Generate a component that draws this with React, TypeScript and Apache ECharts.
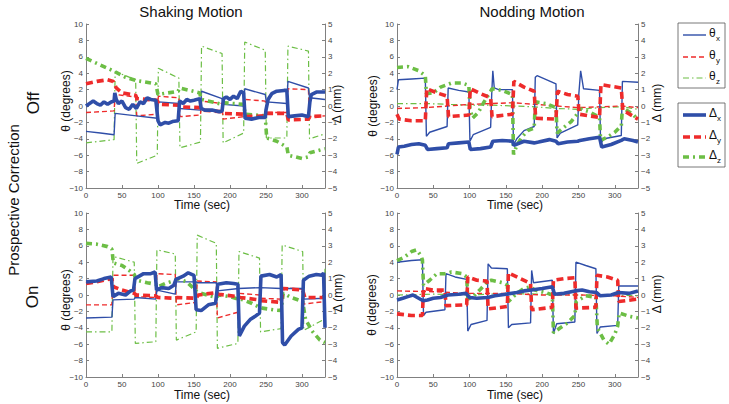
import React, { useEffect, useRef } from 'react';
import * as echarts from 'echarts';

const X_MAX = 332;
const X_TICKS = [0, 50, 100, 150, 200, 250, 300];
const THETA_RANGE = [-10, 10];
const DELTA_RANGE = [-5, 5];
const COLUMN_TITLES = ['Shaking Motion', 'Nodding Motion'];
const ROW_TITLES = ['Off', 'On'];

// ---------- Shaking, correction Off ----------
const shakeOffThetaX = [[0,-3.1],[20,-3.3],[39,-3.5],[40.5,-0.9],[70,-1.2],[99,-1.5],[100.5,0.5],[129,0.3],[130.5,-0.3],[159,-0.5],[160.5,1.8],[189,0.9],[190.5,0.2],[219,0],[220.5,2.1],[249,1.4],[250.5,0.5],[279,0.3],[280.5,3.0],[309,2.2],[310.5,1.0],[332,0.8]];
const shakeOffThetaY = [[0,-0.8],[39,-0.6],[40.5,1.4],[69,1.1],[70.5,-1.2],[99,-1.0],[100.5,1.2],[129,1.0],[130.5,-1.3],[159,-1.1],[160.5,0.6],[189,0.3],[190.5,-1.6],[219,-1.3],[220.5,0.8],[249,0.6],[250.5,-0.8],[279,-0.8],[280.5,2.1],[309,2.0],[310.5,-1.3],[332,-1.2]];
const shakeOffThetaZ = [[0,-4.5],[39,-4.1],[40.5,4.2],[69,3.2],[70.5,-7.0],[99,-6.0],[100.5,4.6],[129,3.4],[130.5,-5.1],[159,-4.4],[160.5,7.3],[189,6.4],[190.5,-4.5],[219,-3.3],[220.5,7.8],[249,6.8],[250.5,-3.9],[279,-3.9],[280.5,7.3],[309,6.7],[310.5,-4.0],[332,-3.4]];
const shakeOffDeltaX = [[0,0],[5,0.15],[10,0.3],[15,0.15],[20,0.05],[25,0.25],[30,0.1],[35,0.25],[39,0.3],[40,0.8],[42,0.4],[45,0.15],[50,0.3],[55,-0.1],[60,-0.2],[65,0.1],[70,-0.15],[75,0.25],[80,0.15],[85,0.5],[90,0.4],[97,0.35],[100,-0.9],[103,-1.15],[110,-1.0],[115,-1.05],[120,-0.95],[128,-0.9],[130,0.3],[135,0.15],[140,0.4],[145,0.3],[150,0.35],[158,0.45],[160,-0.15],[165,-0.25],[175,-0.25],[185,-0.35],[189,-0.3],[191,0.45],[195,0.55],[200,0.4],[205,0.6],[210,0.45],[215,0.9],[219,0.8],[221,-0.75],[230,-0.8],[240,-0.7],[249,-0.7],[250,-0.25],[253,0.4],[258,0.75],[265,0.9],[275,0.95],[279,0.95],[281,-0.65],[290,-0.6],[300,-0.55],[309,-0.65],[311,0.25],[313,0.7],[320,0.85],[332,0.85]];
const shakeOffDeltaY = [[0,1.35],[15,1.5],[30,1.6],[38,1.5],[42,1.1],[50,0.8],[69,0.65],[71,0.45],[99,0.35],[101,0.1],[129,0.05],[131,-0.05],[159,-0.1],[161,-0.25],[189,-0.35],[191,-0.45],[219,-0.5],[221,-0.65],[249,-0.6],[251,-0.45],[279,-0.45],[281,-0.85],[309,-0.8],[311,-0.65],[332,-0.6]];
const shakeOffDeltaZ = [[0,2.9],[20,2.5],[40,2.1],[55,1.75],[70,1.55],[97,1.35],[100,0.7],[128,0.9],[130,1.1],[158,0.8],[160,0.4],[189,0.1],[191,0.2],[219,0.1],[221,-0.5],[249,-0.6],[251,-1.95],[265,-2.15],[279,-2.5],[281,-3.0],[300,-3.2],[309,-3.1],[311,-2.85],[332,-2.6]];

// ---------- Nodding, correction Off ----------
const nodOffThetaX = [[0,2.0],[2,3.2],[20,3.3],[39,3.4],[40.5,-3.7],[45,-3.2],[69,-2.5],[70.5,2.2],[85,1.9],[99,1.7],[100.5,-4.3],[105,-3.5],[129,-2.6],[130.5,1.5],[132,4.3],[134,2.2],[140,2.0],[159,2.0],[160.5,-4.8],[165,-4.0],[175,-3.0],[189,-2.5],[190.5,3.5],[193,3.7],[219,2.7],[220.5,-3.9],[225,-3.3],[249,-2.3],[250.5,1.5],[253,4.3],[257,2.1],[279,1.9],[280.5,-4.6],[285,-4.0],[309,-3.6],[310.5,3.0],[332,2.9]];
const nodOffThetaY = [[0,-0.3],[40,-0.2],[70,0],[100,0.2],[130,0.3],[160,0.4],[190,0.2],[220,0],[250,-0.2],[280,-0.1],[310,0],[332,-0.2]];
const nodOffThetaZ = [[0,0.3],[40,0.3],[70,0.2],[100,0.1],[130,0.1],[160,0],[190,-0.1],[220,-0.3],[250,-0.4],[280,-0.2],[310,-0.1],[332,-0.4]];
const nodOffDeltaX = [[0,-2.95],[2,-2.5],[10,-2.45],[20,-2.35],[30,-2.3],[39,-2.4],[42,-2.65],[55,-2.6],[69,-2.55],[71,-2.3],[85,-2.25],[99,-2.2],[101,-2.65],[115,-2.6],[129,-2.5],[132,-2.15],[145,-2.1],[159,-2.15],[161,-2.4],[175,-2.15],[189,-2.25],[195,-2.2],[210,-2.05],[219,-2.15],[222,-2.3],[235,-2.2],[249,-2.15],[252,-2.1],[265,-2.0],[279,-1.9],[282,-2.5],[295,-2.35],[309,-2.1],[313,-2.0],[325,-2.1],[332,-2.2]];
const nodOffDeltaY = [[0,-0.5],[3,-0.8],[20,-0.9],[39,-0.9],[41,1.05],[55,0.8],[69,0.6],[71,-0.65],[99,-0.55],[101,1.05],[115,0.75],[129,0.5],[131,-0.65],[159,-0.5],[161,1.5],[175,1.15],[189,0.9],[191,-0.75],[219,-0.8],[221,0.9],[235,0.7],[249,0.6],[251,-0.5],[279,-0.7],[281,1.3],[309,1.1],[311,-0.25],[332,-0.8]];
const nodOffDeltaZ = [[0,2.35],[15,2.4],[30,2.15],[39,1.85],[40.5,0.75],[50,0.8],[60,1.15],[75,1.4],[90,1.4],[99,1.25],[100.5,-0.15],[104,-0.75],[112,-0.4],[120,0.25],[129,0.9],[131,1.05],[145,0.95],[159,0.7],[160.5,-2.95],[165,-2.4],[172,-1.9],[180,-1.5],[189,-1.35],[190.5,0.25],[205,0.15],[219,-0.1],[220.5,-1.65],[230,-1.3],[240,-0.95],[249,-0.45],[250.5,-0.15],[265,-0.35],[279,-0.7],[280.5,-2.1],[290,-1.9],[300,-1.6],[309,-1.2],[310.5,-0.1],[325,-0.5],[332,-0.85]];

// ---------- Shaking, correction On ----------
const shakeOnThetaX = [[0,-2.8],[36,-2.7],[37.5,-0.6],[67,-0.5],[68.5,-0.3],[97,-0.5],[98.5,0.6],[124,0.1],[125.5,1.6],[153,1.6],[154.5,1.5],[181,1.5],[182.5,0.5],[212,0.8],[242,0.9],[271,0.8],[301,0.8],[302.5,-0.5],[332,-0.4]];
const shakeOnThetaY = [[0,-1.2],[36,-1.2],[37.5,2.4],[67,2.4],[68.5,-0.2],[97,-0.3],[98.5,2.6],[124,2.5],[125.5,-1.2],[153,-0.9],[154.5,1.7],[181,1.6],[182.5,-2.8],[211,-2.1],[212.5,0.2],[241,0],[242.5,-0.4],[271,-0.5],[272.5,0.9],[301,0.7],[302.5,-1.1],[332,-0.8]];
const shakeOnThetaZ = [[0,-4.5],[36,-4.5],[37.5,4.7],[67,4.0],[68.5,-5.9],[97,-5.7],[98.5,5.5],[124,5.0],[125.5,-5.5],[153,-4.5],[154.5,7.3],[181,6.3],[182.5,-6.5],[211,-5.9],[212.5,5.3],[241,4.5],[242.5,-4.5],[271,-4.1],[272.5,6.1],[301,5.3],[302.5,-4.3],[330,-3.0],[332,3.2]];
const shakeOnDeltaX = [[0,0.8],[15,0.85],[25,1.0],[35,1.1],[37.5,-0.1],[45,0.1],[55,0],[62,0.25],[66,0.3],[68,1.0],[80,1.3],[90,1.3],[96,1.4],[98,0.3],[105,0.45],[115,0.4],[122,0.6],[125,0.95],[135,1.15],[142,1.35],[150,1.2],[153,-0.9],[160,-0.95],[170,-0.6],[180,-0.5],[183,0.65],[195,0.75],[205,0.7],[211,0.65],[213,-2.5],[220,-1.9],[228,-1.5],[235,-1.3],[241,-1.1],[243,1.15],[255,1.25],[265,1.1],[271,1.25],[273,-2.9],[276,-3.05],[285,-2.5],[295,-2.1],[300,-2.0],[302,0.9],[310,1.15],[320,1.25],[328,1.2],[330,1.35],[332,-2.0]];
const shakeOnDeltaY = [[0,0.7],[15,0.8],[30,0.95],[36,1.0],[38,0.5],[50,0.3],[67,0.1],[70,0],[97,-0.05],[100,-0.15],[124,-0.2],[127,-0.15],[153,-0.2],[156,0],[181,0.15],[184,0.05],[211,-0.1],[214,-0.15],[241,-0.3],[244,-0.35],[271,-0.45],[274,0.4],[301,0.3],[304,-0.15],[332,-0.15]];
const shakeOnDeltaZ = [[0,3.15],[15,3.1],[30,2.95],[36,2.8],[38,1.95],[50,1.8],[60,1.5],[67,1.25],[70,0.9],[85,0.75],[97,0.65],[100,0.5],[110,0.7],[124,0.9],[127,1.0],[140,0.8],[153,0.25],[160,0.1],[181,-0.15],[185,0],[200,-0.1],[211,-0.25],[215,-0.25],[230,-0.5],[241,-0.75],[245,-0.8],[260,-0.9],[271,-0.95],[274,0.1],[285,-0.15],[301,-0.4],[305,-1.5],[315,-2.25],[325,-2.75],[332,-2.9]];

// ---------- Nodding, correction On ----------
const nodOnThetaX = [[0,4.0],[20,4.2],[35,4.3],[36.5,-2.5],[40,-2.1],[66,-1.8],[67.5,2.6],[80,2.2],[96,1.9],[97.5,-4.4],[102,-3.6],[124,-3.1],[125.5,3.8],[130,3.3],[152,3.2],[153.5,-4.0],[158,-3.6],[184,-3.4],[185.5,3.0],[188,1.5],[214,1.8],[215.5,-4.7],[220,-3.5],[245,-3.3],[246.5,4.0],[260,3.6],[274,3.2],[275.5,-4.7],[280,-3.9],[304,-3.7],[305.5,1.1],[332,1.1]];
const nodOnThetaY = [[0,0.5],[50,0.4],[100,0.2],[150,0.2],[200,0],[250,0],[300,-0.1],[332,-0.3]];
const nodOnThetaZ = [[0,0],[50,0.1],[100,0],[150,0.2],[200,0.1],[250,0],[300,0],[332,-0.1]];
const nodOnDeltaX = [[0,-0.3],[8,-0.2],[15,-0.1],[22,0],[28,-0.15],[36,-0.35],[42,-0.3],[50,-0.2],[60,-0.15],[70,0],[85,0.05],[95,0.1],[100,-0.15],[110,-0.2],[125,-0.15],[135,-0.05],[150,0.05],[165,0.15],[175,0.25],[185,0.3],[200,0.4],[214,0.5],[217,0.05],[230,0.1],[245,0.25],[255,0.3],[265,0.2],[275,0.15],[280,-0.05],[295,0],[305,0.15],[320,0.1],[332,0.25]];
const nodOnDeltaY = [[0,-1.15],[20,-1.25],[35,-1.25],[36.5,0.4],[50,0.3],[66,0.3],[67.5,-0.65],[96,-0.6],[97.5,1.1],[110,0.9],[124,0.85],[125.5,-0.85],[152,-0.7],[153.5,1.35],[170,1.0],[184,0.7],[185.5,-0.9],[214,-0.75],[215.5,0.9],[230,1.0],[245,1.05],[246.5,-0.8],[274,-0.75],[275.5,1.2],[290,1.1],[304,0.9],[305.5,-0.4],[332,-0.25]];
const nodOnDeltaZ = [[0,2.1],[10,2.3],[20,2.65],[27,2.75],[33,2.4],[35,2.15],[36.5,0.6],[45,0.9],[55,1.3],[66,1.3],[75,1.4],[90,1.3],[96,1.1],[97.5,-0.25],[105,-0.1],[115,0.35],[124,0.8],[130,0.9],[145,0.75],[152,0.6],[153.5,-0.4],[165,0.1],[175,0.4],[184,0.5],[190,0.3],[205,0.15],[214,0],[215.5,-2.3],[225,-2.0],[235,-1.7],[245,-1.25],[247,-0.4],[260,-0.05],[274,-0.15],[276,-2.0],[285,-2.75],[292,-3.0],[300,-2.4],[304,-1.9],[306,-1.1],[320,-1.3],[332,-1.4]];

const BLUE = '#2F4EA8';
const RED = '#EE2B2B';
const GREEN = '#6CBE45';
const FONT = '"Liberation Sans", Arial, sans-serif';

const panels = [
  { tx: shakeOffThetaX, ty: shakeOffThetaY, tz: shakeOffThetaZ, dx: shakeOffDeltaX, dy: shakeOffDeltaY, dz: shakeOffDeltaZ },
  { tx: nodOffThetaX, ty: nodOffThetaY, tz: nodOffThetaZ, dx: nodOffDeltaX, dy: nodOffDeltaY, dz: nodOffDeltaZ },
  { tx: shakeOnThetaX, ty: shakeOnThetaY, tz: shakeOnThetaZ, dx: shakeOnDeltaX, dy: shakeOnDeltaY, dz: shakeOnDeltaZ },
  { tx: nodOnThetaX, ty: nodOnThetaY, tz: nodOnThetaZ, dx: nodOnDeltaX, dy: nodOnDeltaY, dz: nodOnDeltaZ },
];

const gridBoxes = [
  { left: 86, top: 24, width: 239, height: 164 },
  { left: 397, top: 24, width: 241, height: 164 },
  { left: 86, top: 213, width: 239, height: 164 },
  { left: 397, top: 213, width: 241, height: 164 },
];

const styles: Record<string, any> = {
  tx: { color: BLUE, width: 1.4, type: 'solid' },
  ty: { color: RED, width: 1.4, type: [5, 3] },
  tz: { color: GREEN, width: 1.2, type: [6, 3, 1.5, 3] },
  dx: { color: BLUE, width: 3.6, type: 'solid' },
  dy: { color: RED, width: 3.6, type: [7, 4] },
  dz: { color: GREEN, width: 3.6, type: [6, 4, 2, 4] },
};

const minusFmt = (v: number) => String(v).replace('-', '\u2212');

function buildOption() {
  const axisLine = { show: true, onZero: false, lineStyle: { color: '#808080', width: 1 } };
  const axisTick = { show: true, inside: true, length: 3, lineStyle: { color: '#808080' } };
  const axisLabel = { fontSize: 8, color: '#444', fontFamily: FONT, margin: 3 };

  const xAxis = gridBoxes.map((_, i) => ({
    type: 'value', gridIndex: i, min: 0, max: X_MAX, interval: 50,
    axisLine, axisTick, splitLine: { show: false },
    axisLabel: { ...axisLabel, formatter: (v: number) => (X_TICKS.includes(v) ? String(v) : '') },
  }));
  const yAxis: any[] = [];
  gridBoxes.forEach((_, i) => {
    yAxis.push({
      type: 'value', gridIndex: i, position: 'left', min: THETA_RANGE[0], max: THETA_RANGE[1], interval: 2,
      axisLine, axisTick, splitLine: { show: false }, axisLabel: { ...axisLabel, formatter: minusFmt },
    });
    yAxis.push({
      type: 'value', gridIndex: i, position: 'right', min: DELTA_RANGE[0], max: DELTA_RANGE[1], interval: 1,
      axisLine, axisTick, splitLine: { show: false }, axisLabel: { ...axisLabel, formatter: minusFmt },
    });
  });

  const series: any[] = [];
  panels.forEach((p: any, i) => {
    ['tz', 'ty', 'tx', 'dz', 'dy', 'dx'].forEach((k) => {
      const right = k[0] === 'd';
      series.push({
        type: 'line', xAxisIndex: i, yAxisIndex: i * 2 + (right ? 1 : 0),
        data: p[k], showSymbol: false, symbol: 'none', silent: true,
        lineStyle: styles[k], z: right ? 3 : 2,
      });
    });
  });

  const graphic: any[] = [];
  const text = (t: string, x: number, y: number, size: number, rot = 0, extra: any = {}) => ({
    type: 'text', x, y, rotation: rot, silent: true,
    style: { text: t, fontSize: size, fontFamily: FONT, fill: '#111', align: 'center', verticalAlign: 'middle', ...extra },
  });
  const R = Math.PI / 2;
  graphic.push(text(COLUMN_TITLES[0], 191, 11, 15));
  graphic.push(text(COLUMN_TITLES[1], 532, 11, 15));
  graphic.push(text(ROW_TITLES[0], 33, 103, 17, R));
  graphic.push(text(ROW_TITLES[1], 32, 297, 17, R));
  graphic.push(text('Prospective Correction', 13, 200, 15, R));
  [[202, 205], [515, 205], [202, 395], [515, 395]].forEach(([x, y]) => graphic.push(text('Time (sec)', x, y, 12)));
  [[66, 101], [373, 106], [66, 300], [372, 305]].forEach(([x, y]) => graphic.push(text('\u03B8 (degrees)', x, y, 12, R)));
  [[337, 104], [657, 103], [338, 293], [657, 294]].forEach(([x, y]) => graphic.push(text('\u0394 (mm)', x, y, 12, R)));

  // legend boxes
  const legendBox = (y: number, h: number) => ({
    type: 'rect', shape: { x: 678, y, width: 47, height: h }, silent: true,
    style: { fill: '#fff', stroke: '#555', lineWidth: 0.8 },
  });
  graphic.push(legendBox(23, 65));
  graphic.push(legendBox(103, 64));
  const legendRows = [
    { k: 'tx', sym: '\u03B8', sub: 'x', y: 35 },
    { k: 'ty', sym: '\u03B8', sub: 'y', y: 57 },
    { k: 'tz', sym: '\u03B8', sub: 'z', y: 78 },
    { k: 'dx', sym: '\u0394', sub: 'x', y: 115 },
    { k: 'dy', sym: '\u0394', sub: 'y', y: 137 },
    { k: 'dz', sym: '\u0394', sub: 'z', y: 157 },
  ];
  legendRows.forEach((r) => {
    const s = styles[r.k];
    graphic.push({
      type: 'line', silent: true, shape: { x1: 683, y1: r.y, x2: 706, y2: r.y },
      style: { stroke: s.color, lineWidth: s.width, lineDash: Array.isArray(s.type) ? s.type : null },
    });
    graphic.push(text(r.sym, 709, r.y - 2, 12, 0, { align: 'left' }));
    graphic.push(text(r.sub, r.sym === '\u0394' ? 717 : 716, r.y + 3, 8, 0, { align: 'left' }));
  });

  return {
    animation: false,
    backgroundColor: '#fff',
    grid: gridBoxes.map((g) => ({ ...g, containLabel: false })),
    xAxis, yAxis, series, graphic,
  };
}

export default function App() {
  const ref = useRef<HTMLDivElement>(null);
  useEffect(() => {
    document.body.style.margin = '0';
    if (!ref.current) return;
    const chart = echarts.init(ref.current, undefined, { renderer: 'svg' });
    chart.setOption(buildOption() as any);
    return () => chart.dispose();
  }, []);
  return <div ref={ref} style={{ width: 729, height: 404 }} />;
}
